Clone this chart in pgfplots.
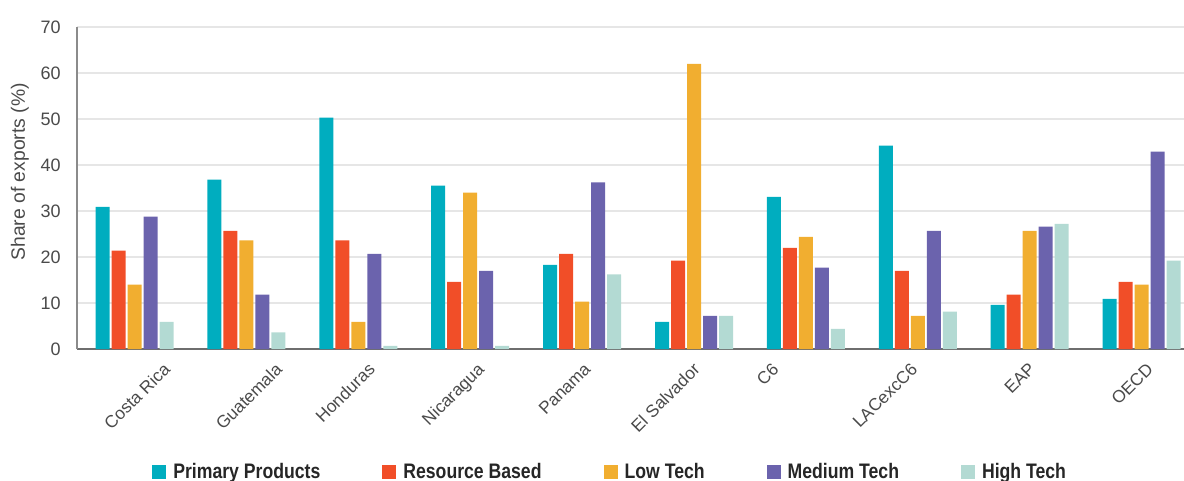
\documentclass[border=0pt]{standalone}
\usepackage{fontspec}
\setmainfont{Liberation Sans}
\newfontfamily\legendfont[FakeStretch=0.84]{Liberation Sans}
\usepackage{pgfplots}
\usepackage{pgfplotstable}
\pgfplotsset{compat=1.18}
\definecolor{cPP}{HTML}{00ADBF}
\definecolor{cRB}{HTML}{F14E28}
\definecolor{cLT}{HTML}{F1AE30}
\definecolor{cMT}{HTML}{6B63AD}
\definecolor{cHT}{HTML}{B3DAD3}
\definecolor{gridc}{HTML}{E6E6E6}
\definecolor{axc}{HTML}{6E6E6E}
\definecolor{txt}{HTML}{4A4A4A}
\pgfplotstableread{
x pp rb lt mt ht
0 30.9 21.4 14.0 28.8 5.9
1 36.8 25.7 23.6 11.8 3.6
2 50.3 23.6 5.9 20.7 0.7
3 35.5 14.6 34.0 17.0 0.7
4 18.3 20.7 10.3 36.2 16.2
5 5.9 19.2 62.0 7.2 7.2
6 33.1 22.0 24.4 17.7 4.4
7 44.2 17.0 7.2 25.7 8.1
8 9.6 11.8 25.7 26.6 27.2
9 10.9 14.6 14.0 42.9 19.2
}\datatable
\begin{document}
\begin{tikzpicture}
\useasboundingbox (-57.75pt,-98.25pt) rectangle (830.25pt,261.75pt);
\begin{axis}[
  scale only axis,
  width=830.25pt, height=241.5pt,
  xmin=-0.514, xmax=9.379,
  ymin=0, ymax=70,
  ytick={0,10,...,70},
  xtick={0.32,1.32,2.15,3.125,4.08,5.054,5.76,7,8.054,9.107},
  xticklabels={Costa Rica,Guatemala,Honduras,Nicaragua,Panama,El Salvador,C6,LACexcC6,EAP,OECD},
  major tick length=0pt,
  axis x line*=bottom, axis y line*=left,
  axis line style={draw=axc, line width=1.4pt},
  x axis line style={-}, y axis line style={-, line width=1.1pt, draw=axc!80},
  ymajorgrids, grid style={draw=gridc, line width=1.1pt},
  /pgf/number format/assume math mode=true,
  tick label style={font=\fontsize{13.5pt}{15pt}\selectfont, color=txt},
  yticklabel style={inner sep=0pt, xshift=-12pt},
  xticklabel style={xshift=-6pt, yshift=-9.3pt, rotate=45, anchor=north east, inner sep=0pt, font=\fontsize{13pt}{15pt}\selectfont},
  ylabel={Share of exports (\%)},
  ylabel style={at={(axis description cs:-0.0515,0.55)}, anchor=center, font=\fontsize{14.5pt}{16pt}\selectfont, color=txt},
  ybar, bar width=0.125,
  legend columns=5,
  legend image code/.code={\fill[#1] (0pt,-5.25pt) rectangle (10.5pt,5.25pt);},
  legend style={at={(axis description cs:0.0678,-0.382)}, anchor=west, draw=none, fill=none, inner sep=0pt,
    font=\legendfont\bfseries\fontsize{15.75pt}{18pt}\selectfont, text=black!85,
    nodes={inner sep=0pt},
    /tikz/every odd column/.append style={column sep=5.25pt},
    /tikz/every even column/.append style={column sep=46.5pt}},
]
\addplot[fill=cPP, draw=none, bar shift=-0.286] table[x=x,y=pp]{\datatable};
\addplot[fill=cRB, draw=none, bar shift=-0.143] table[x=x,y=rb]{\datatable};
\addplot[fill=cLT, draw=none, bar shift=0] table[x=x,y=lt]{\datatable};
\addplot[fill=cMT, draw=none, bar shift=0.143] table[x=x,y=mt]{\datatable};
\addplot[fill=cHT, draw=none, bar shift=0.286] table[x=x,y=ht]{\datatable};
\legend{Primary Products,Resource Based,Low Tech,Medium Tech,High Tech}
\end{axis}
\end{tikzpicture}
\end{document}
